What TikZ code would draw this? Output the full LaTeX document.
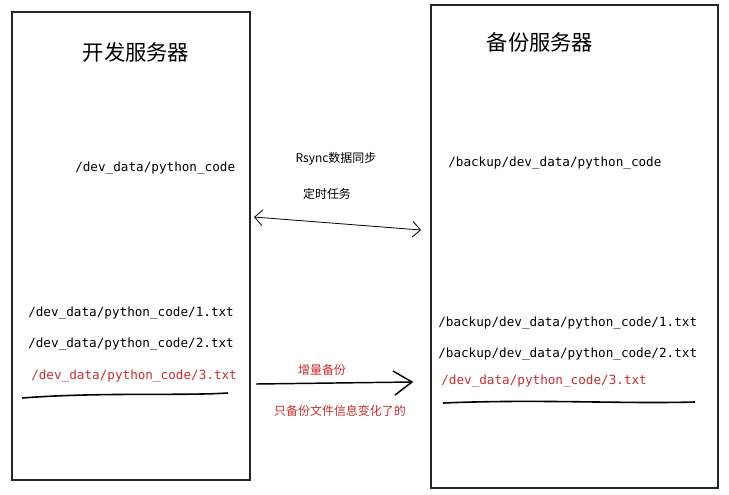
\documentclass[tikz,border=0pt]{standalone}
\usepackage{fontspec}
\setmainfont{Noto Sans CJK SC}
\setmonofont{DejaVu Sans Mono}
\newfontfamily\cjk{Noto Sans CJK SC}
\usetikzlibrary{arrows.meta}
\definecolor{redtxt}{RGB}{200,45,45}
\tikzset{
  server/.style={draw=black!85, line width=0.8pt},
  path/.style={font=\ttfamily\fontsize{9.5}{11}\selectfont, anchor=west, inner sep=0pt},
  note/.style={font=\cjk\fontsize{9}{11}\selectfont, inner sep=0pt},
  title/.style={font=\cjk\fontsize{16}{18}\selectfont, inner sep=0pt}
}
\begin{document}
\begin{tikzpicture}[x=0.0264cm,y=-0.0264cm]
\useasboundingbox (0,0) rectangle (729,494);
\draw [server] (12,12) rectangle (250,480);
\draw [server] (431,5) rectangle (718,488);
\node [title] (devtitle) at (136,52) {开发服务器};
\node [title] (baktitle) at (540,42) {备份服务器};
\node [path] (devdir) at (75,168) {/dev\_data/python\_code};
\node [path] (bakdir) at (448,163) {/backup/dev\_data/python\_code};
\node [path] (dev1) at (28,313) {/dev\_data/python\_code/1.txt};
\node [path] (dev2) at (28,344) {/dev\_data/python\_code/2.txt};
\node [path, text=redtxt] (dev3) at (31,376) {/dev\_data/python\_code/3.txt};
\node [path] (bak1) at (438,323) {/backup/dev\_data/python\_code/1.txt};
\node [path] (bak2) at (438,354) {/backup/dev\_data/python\_code/2.txt};
\node [path, text=redtxt] (bak3) at (441,381) {/dev\_data/python\_code/3.txt};
\node [note] (rsync) at (336,159) {Rsync数据同步};
\node [note] (cron) at (327,194) {定时任务};
\node [note, text=redtxt] (incr) at (322,370) {增量备份};
\node [note, text=redtxt] (only) at (340,411) {只备份文件信息变化了的};
\coordinate (syncl) at (254,217);
\coordinate (syncr) at (421,230);
\draw [{Straight Barb[length=6pt]}-{Straight Barb[length=6pt]}, line width=0.6pt] (syncl) -- (syncr);
\coordinate (incl) at (256,384);
\coordinate (incr2) at (412,382);
\draw [line width=1.1pt] (incl) -- (incr2);
\draw [line width=1.1pt] (393,371) .. controls (403,376) .. (412,382) .. controls (404,388) .. (395,395);
\draw [line width=1.2pt] (22,398) .. controls (100,392) and (180,396) .. (228,393);
\draw [line width=1.2pt] (443,403) .. controls (540,399) and (620,404) .. (695,402);
\end{tikzpicture}
\end{document}
